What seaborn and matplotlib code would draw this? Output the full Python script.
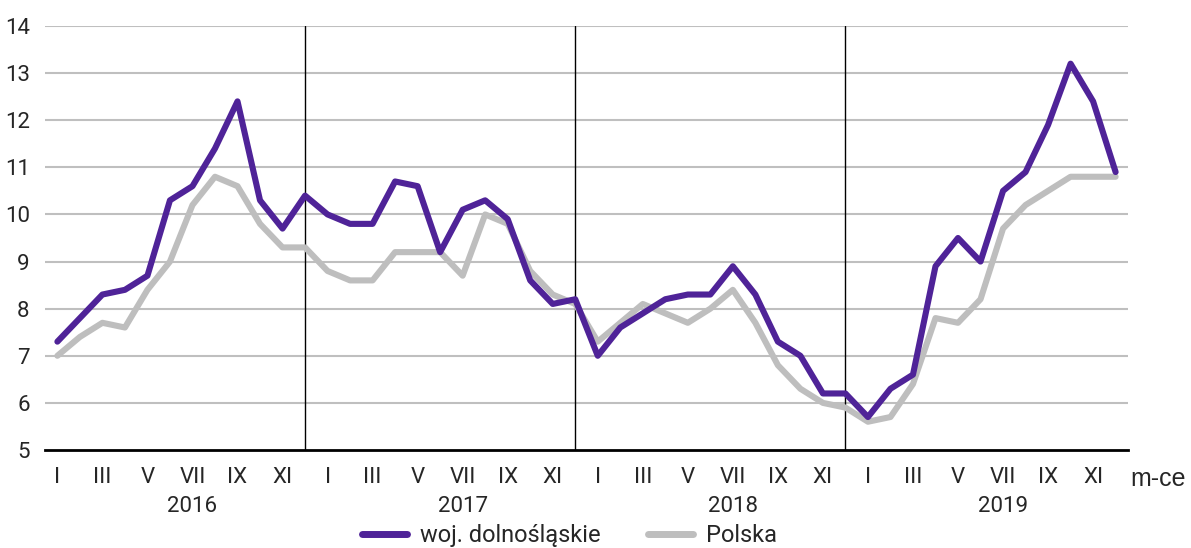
import numpy as np
import pandas as pd
import matplotlib
matplotlib.use("Agg")
import matplotlib.pyplot as plt
import matplotlib.transforms as mtransforms
import seaborn as sns

# dane
years = ["2016", "2017", "2018", "2019"]
months = ["I", "II", "III", "IV", "V", "VI", "VII", "VIII", "IX", "X", "XI", "XII"]
dolnoslaskie = [
    7.3, 7.8, 8.3, 8.4, 8.7, 10.3, 10.6, 11.4, 12.4, 10.3, 9.7, 10.4,
    10.0, 9.8, 9.8, 10.7, 10.6, 9.2, 10.1, 10.3, 9.9, 8.6, 8.1, 8.2,
    7.0, 7.6, 7.9, 8.2, 8.3, 8.3, 8.9, 8.3, 7.3, 7.0, 6.2, 6.2,
    5.7, 6.3, 6.6, 8.9, 9.5, 9.0, 10.5, 10.9, 11.9, 13.2, 12.4, 10.9,
]
polska = [
    7.0, 7.4, 7.7, 7.6, 8.4, 9.0, 10.2, 10.8, 10.6, 9.8, 9.3, 9.3,
    8.8, 8.6, 8.6, 9.2, 9.2, 9.2, 8.7, 10.0, 9.8, 8.8, 8.3, 8.1,
    7.3, 7.7, 8.1, 7.9, 7.7, 8.0, 8.4, 7.7, 6.8, 6.3, 6.0, 5.9,
    5.6, 5.7, 6.4, 7.8, 7.7, 8.2, 9.7, 10.2, 10.5, 10.8, 10.8, 10.8,
]
series_names = ["woj. dolnośląskie", "Polska"]
colors = ["#4F2398", "#BEBEBE"]

n = len(dolnoslaskie)
df = pd.DataFrame({
    "idx": np.tile(np.arange(n), 2),
    "value": dolnoslaskie + polska,
    "seria": [series_names[0]] * n + [series_names[1]] * n,
})

sns.set_style("white")
plt.rcParams["font.family"] = ["Roboto", "DejaVu Sans"]

fig = plt.figure(figsize=(11.91, 5.48), dpi=100)
ax = fig.add_axes([45 / 1191, (548 - 450) / 548, (1128 - 45) / 1191, (450 - 26) / 548])

# siatka
for v in range(6, 15):
    ax.axhline(v, color="#BFBFBF", lw=1.5, zorder=0)

# granice lat
for k in range(1, len(years)):
    ax.axvline(12 * k - 1, color="black", lw=1, zorder=1)

sns.lineplot(data=df, x="idx", y="value", hue="seria", hue_order=series_names[::-1],
             palette=dict(zip(series_names, colors)), linewidth=4.4, ax=ax,
             legend=False, zorder=3)
ax.lines[-1].set_zorder(4)

ax.set_xlim(-0.55, n - 0.45)
ax.set_ylim(5, 14)
ax.set_yticks(range(5, 15))
ax.tick_params(axis="y", length=0, labelsize=16, pad=11)

roman = [m if i % 2 == 0 else "" for i, m in enumerate(months)] * len(years)
ax.set_xticks(range(n))
ax.set_xticklabels(roman)
ax.tick_params(axis="x", direction="inout", length=6, width=1.5, labelsize=16, pad=9, color="black")
ax.set_xlabel("")
ax.set_ylabel("")

for s in ["top", "right", "left"]:
    ax.spines[s].set_visible(False)
ax.spines["bottom"].set_linewidth(2)
ax.spines["bottom"].set_color("black")

trans = mtransforms.blended_transform_factory(ax.transData, ax.transAxes)
for k, y in enumerate(years):
    ax.text(12 * k + 6, -0.108, y, transform=trans, ha="center", va="top", fontsize=16)

ax.text(1.002, -0.04, "m-ce", transform=ax.transAxes, ha="left", va="top", fontsize=18,
        family="Liberation Sans")

handles = [plt.Line2D([], [], color=c, lw=5) for c in colors]
fig.legend(handles, series_names, loc="center", bbox_to_anchor=(0.478, 0.022), ncol=2,
           frameon=False, fontsize=17, handlelength=1.9, handletextpad=0.55,
           columnspacing=2.0)

fig.savefig("out.png", dpi=100)
